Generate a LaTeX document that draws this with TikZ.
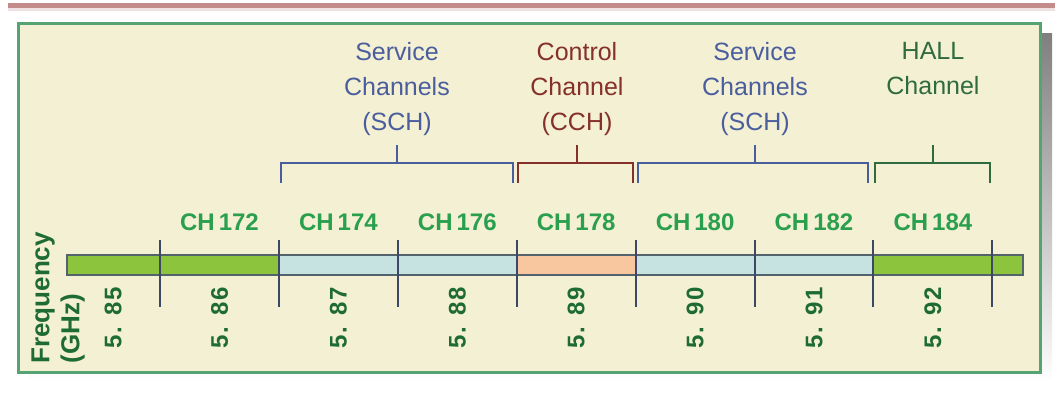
\documentclass[tikz,border=0pt]{standalone}
\usepackage{fontspec}
\setmainfont{Liberation Sans}
\newfontfamily\numfont{Liberation Sans}[LetterSpace=8]
\usetikzlibrary{positioning}
\definecolor{panel}{HTML}{F4F0D3}
\definecolor{panelrim}{HTML}{55A373}
\definecolor{shade}{HTML}{878787}
\definecolor{topband}{HTML}{C48B8B}
\definecolor{barrim}{HTML}{52636E}
\definecolor{tickc}{HTML}{3C4866}
\definecolor{hallgreen}{HTML}{8CC43E}
\definecolor{schblue}{HTML}{C7E3E1}
\definecolor{cchorange}{HTML}{F8C7A0}
\definecolor{chtext}{HTML}{2A9F4E}
\definecolor{numtext}{HTML}{1E6B34}
\definecolor{schtext}{HTML}{4A5E9E}
\definecolor{cchtext}{HTML}{86302A}
\definecolor{halltext}{HTML}{2F6B3F}
\tikzset{chlabel/.style={font=\bfseries\fontsize{12}{14}\selectfont,text=chtext,anchor=base,inner sep=0pt},
         freqlabel/.style={font=\numfont\bfseries\fontsize{12}{14}\selectfont,text=numtext,rotate=90,inner sep=0pt},
         freqtitle/.style={font=\bfseries\fontsize{13}{15}\selectfont,text=numtext,rotate=90,align=left,inner sep=0pt,anchor=north west},
         grouplabel/.style={font=\fontsize{12.5}{17.5}\selectfont,align=center,anchor=north,inner sep=0pt},
         tickline/.style={tickc,line width=1pt},
         bracket/.style={line width=1pt},
         }
\begin{document}
\begin{tikzpicture}[x=0.5pt,y=-0.5pt]
\useasboundingbox (0,0) rectangle (1055,400);
\fill[topband] (8,3) rectangle (1055,8);
\fill[topband!25] (8,8) rectangle (1055,11);
\fill[shade] (28,34) rectangle (1052,383);
\draw[panelrim,fill=panel,line width=1.5pt] (18,24) rectangle (1040,373);

% frequency bar
\fill[hallgreen] (67,255) rectangle (279,275);
\fill[schblue] (279,255) rectangle (516,275);
\fill[cchorange] (516,255) rectangle (635,275);
\fill[schblue] (635,255) rectangle (873,275);
\fill[hallgreen] (873,255) rectangle (1023,275);
\draw[barrim,line width=1pt] (67,255) rectangle (1023,275);
\foreach \i in {0,...,7}
    \draw[tickline] (160+118.9*\i,240) -- (160+118.9*\i,307);

% channel numbers and frequencies
\foreach \c [count=\i from 0] in {172,174,...,184}
    \node[chlabel] (ch\c) at (219.5+118.9*\i,231) {CH\,\c};
\node[freqlabel] (f85) at (113,318) {5. 85};
\foreach \f [count=\i from 0] in {86,...,92}
    \node[freqlabel] (f\f) at (219.5+118.9*\i,318) {5. \f};
\node[freqtitle] (freq) at (31,364) {Frequency\\(GHz)};

% channel groups
\node[grouplabel,text=schtext] (sch1) at (397,42) {Service\\Channels\\(SCH)};
\node[grouplabel,text=cchtext] (cch) at (577,42) {Control\\Channel\\(CCH)};
\node[grouplabel,text=schtext] (sch2) at (755,42) {Service\\Channels\\(SCH)};
\node[grouplabel,text=halltext] (hall) at (933,42) {HALL\\Channel};
\draw[bracket,schtext] (281,183) |- (513,163) -- (513,183) (397,163) -- (397,145);
\draw[bracket,cchtext] (518,183) |- (633,163) -- (633,183) (577,163) -- (577,145);
\draw[bracket,schtext] (638,183) |- (868,163) -- (868,183) (755,163) -- (755,145);
\draw[bracket,halltext] (875,183) |- (990,163) -- (990,183) (933,163) -- (933,145);
\end{tikzpicture}
\end{document}
